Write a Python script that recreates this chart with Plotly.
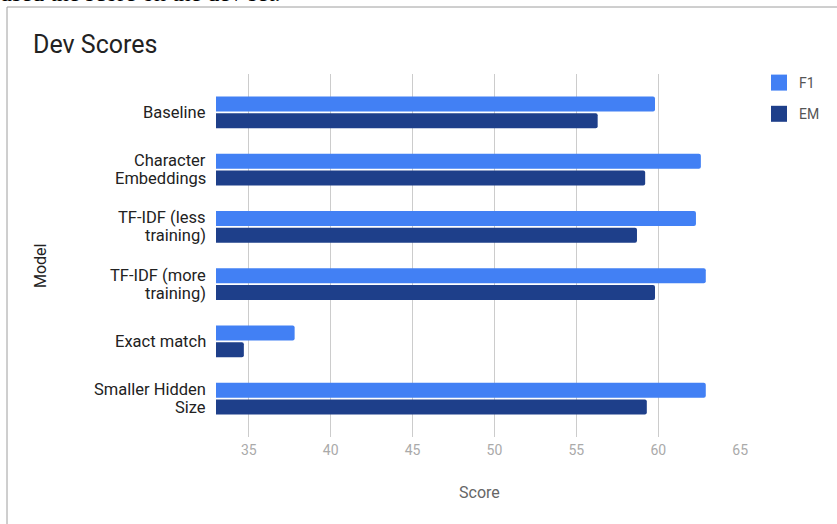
import plotly.graph_objects as go

models = ["Baseline", "Character<br>Embeddings", "TF-IDF (less<br>training)",
          "TF-IDF (more<br>training)", "Exact match", "Smaller Hidden<br>Size"]
f1_scores = [59.8, 62.6, 62.3, 62.9, 37.8, 62.9]
em_scores = [56.3, 59.2, 58.7, 59.8, 34.7, 59.3]
x_ticks = [35, 40, 45, 50, 55, 60, 65]

F1_COLOR = "#4280f4"
EM_COLOR = "#1e3f8a"

W, H = 837, 524
L, R, T, B = 216, 96, 74, 87
pw, ph = W - L - R, H - T - B

def px(x):
    return (x - L) / pw

def py(y):
    return (H - B - y) / ph

fig = go.Figure()
fig.add_trace(go.Bar(y=models, x=f1_scores, name="F1", orientation="h", showlegend=False,
                     marker=dict(color=F1_COLOR, cornerradius=2, line=dict(width=0))))
fig.add_trace(go.Bar(y=models, x=em_scores, name="EM", orientation="h", showlegend=False,
                     marker=dict(color=EM_COLOR, cornerradius=2, line=dict(width=0))))
# legend entries (square swatches)
for nm, col in [("F1", F1_COLOR), ("EM", EM_COLOR)]:
    fig.add_trace(go.Scatter(x=[None], y=[None], mode="markers", name=nm, legendgroup=nm,
                             marker=dict(symbol="square", size=16, color=col, line=dict(width=0))))

pad = 0.17
fig.update_layout(
    width=W, height=H,
    margin=dict(l=L, r=R, t=T, b=B, autoexpand=False),
    paper_bgcolor="white", plot_bgcolor="white",
    font=dict(family="Roboto, Arial, sans-serif", color="#222222"),
    barmode="group", bargap=0.42, bargroupgap=0.1,
    showlegend=True,
    legend=dict(xref="container", yref="container", x=759 / W, y=1 - 67 / H,
                xanchor="left", yanchor="top", traceorder="grouped",
                font=dict(size=14, color="#555555"), tracegroupgap=10,
                bgcolor="rgba(0,0,0,0)"),
    xaxis=dict(range=[33, 65.05], tickvals=x_ticks, showgrid=True,
               gridcolor="#cccccc", gridwidth=1, zeroline=False, ticklabelstandoff=3,
               showline=False, ticks="", tickfont=dict(size=14, color="#aaaaaa")),
    yaxis=dict(range=[5.5 + pad, -0.5 - pad], showgrid=False, ticks="", showline=False,
               showticklabels=False),
)

# Category labels (right-aligned, tight line spacing)
for i, label in enumerate(models):
    lines = label.split("<br>")
    n = len(lines)
    for j, line in enumerate(lines):
        shift = ((n - 1) / 2 - j) * 18
        fig.add_annotation(text=line, xref="paper", yref="y", x=px(208), y=models[i],
                           xanchor="right", yanchor="middle", yshift=shift, showarrow=False,
                           font=dict(size=16.5, color="#222222"))

# Axis titles
fig.add_annotation(text="Score", xref="paper", yref="paper", x=px(479), y=py(492),
                   xanchor="center", yanchor="middle", showarrow=False,
                   font=dict(size=16, color="#666666"))
fig.add_annotation(text="Model", xref="paper", yref="paper", x=px(40), y=py(266),
                   xanchor="center", yanchor="middle", showarrow=False, textangle=-90,
                   font=dict(size=16, color="#222222"))
# Chart title
fig.add_annotation(text="Dev Scores", xref="paper", yref="paper",
                   x=px(31), y=py(45), xanchor="left", yanchor="middle",
                   showarrow=False, font=dict(size=25, color="#222222"))
# Cropped document text above chart
fig.add_annotation(text="used the score on the dev set.", xref="paper", yref="paper",
                   x=px(-2), y=py(8), xanchor="left", yanchor="bottom",
                   showarrow=False, font=dict(size=24, family="Liberation Serif, serif", color="#000000"))
# Chart box border
fig.add_shape(type="line", xref="paper", yref="paper", x0=px(7), x1=px(7), y0=py(7), y1=py(H + 5),
              line=dict(color="#9e9e9e", width=1))
fig.add_shape(type="line", xref="paper", yref="paper", x0=px(7), x1=px(W + 5), y0=py(7), y1=py(7),
              line=dict(color="#9e9e9e", width=1))

fig.write_html("out.html")
